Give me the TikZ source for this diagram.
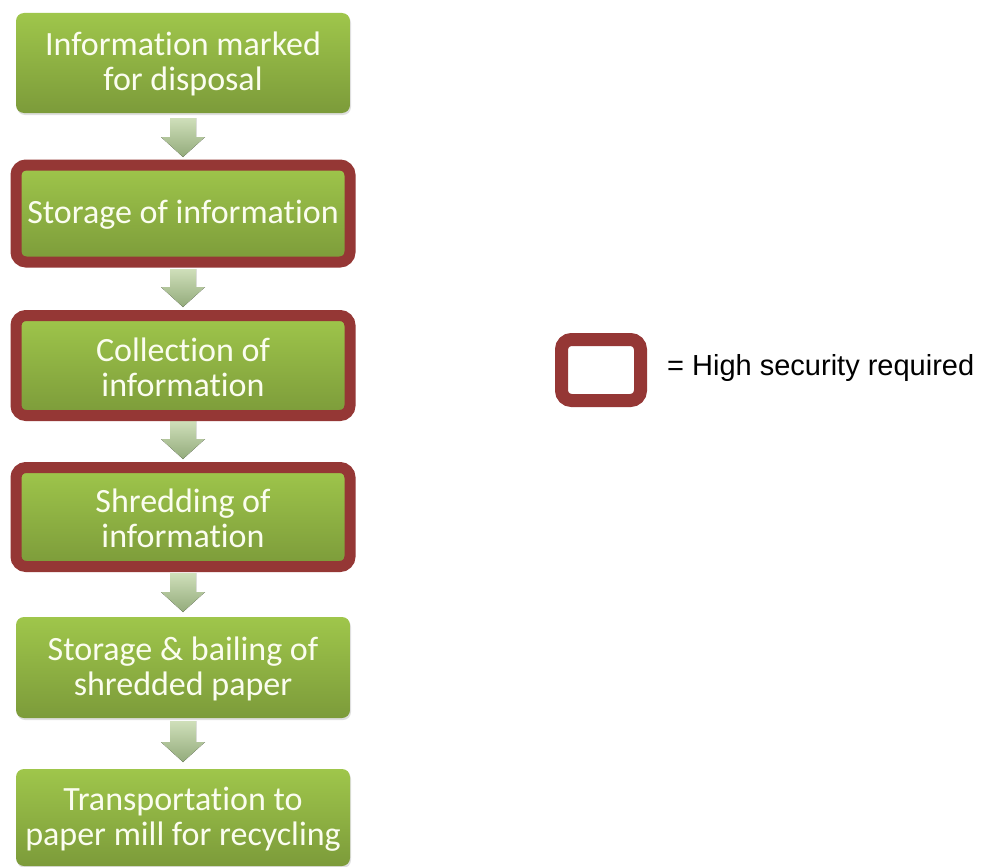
\documentclass[tikz,border=0pt]{standalone}
\usepackage{fontspec}
\setmainfont[Ligatures=NoCommon]{Carlito}
\newfontfamily\legendfont{Liberation Sans}
\usetikzlibrary{shadows}
\definecolor{gtop}{HTML}{9FC64B}
\definecolor{gbot}{HTML}{7C9B3A}
\definecolor{secred}{HTML}{953735}
\definecolor{atop}{HTML}{CFDFBA}
\definecolor{abot}{HTML}{93AB7B}
\definecolor{txt}{HTML}{FBFDEF}
\tikzset{
  x=1pt, y=-1pt,
  stepbox/.style={rounded corners=8pt, top color=gtop, bottom color=gbot, draw=none,
    drop shadow={opacity=0.25, shadow xshift=1pt, shadow yshift=-2pt}},
  secure/.style={draw=secred, line width=11pt, rounded corners=10pt},
  steptext/.style={text=txt, align=center, font=\fontsize{34}{35}\selectfont},
  flowarrow/.style={top color=atop, bottom color=abot, draw=none}
}
\newcommand{\flowarrow}[2]{% top of shaft, tip
  \fill[flowarrow] (170,#1) -- (196,#1) -- (196,#2-20) -- (205,#2-20) -- (183,#2)
    -- (161,#2-20) -- (170,#2-20) -- cycle;}
\begin{document}
\begin{tikzpicture}
\useasboundingbox (0,0) rectangle (983,867);
\fill[white] (0,0) rectangle (983,867);

% flow arrows between the steps
\flowarrow{118}{157}
\flowarrow{269}{307}
\flowarrow{421}{459}
\flowarrow{573}{612}
\flowarrow{721}{762}

% process steps
\path[stepbox] (16,13) rectangle (350,113);
\node[steptext] (s1) at (183,64) {Information marked\\for disposal};

\path[stepbox] (16,165) rectangle (350,262);
\draw[secure] (16,165) rectangle (350,262);
\node[steptext] (s2) at (183,215) {Storage of information};

\path[stepbox] (16,315.5) rectangle (350,415.5);
\draw[secure] (16,315.5) rectangle (350,415.5);
\node[steptext] (s3) at (183,367) {Collection of\\information};

\path[stepbox] (16,467.5) rectangle (350,566.5);
\draw[secure] (16,467.5) rectangle (350,566.5);
\node[steptext] (s4) at (183,518) {Shredding of\\information};

\path[stepbox] (16,617) rectangle (350,718);
\node[steptext] (s5) at (183,669) {Storage \& bailing of\\shredded paper};

\path[stepbox] (16,769) rectangle (350,866);
\node[steptext] (s6) at (183,819) {Transportation to\\paper mill for recycling};

% legend
\draw[secure, line width=13pt, fill=white] (561.5,339.5) rectangle (640.5,400.5);
\node[anchor=west, inner sep=0pt, font=\legendfont\fontsize{29}{32}\selectfont] (legend) at (667,368) {= High security required};
\end{tikzpicture}
\end{document}
